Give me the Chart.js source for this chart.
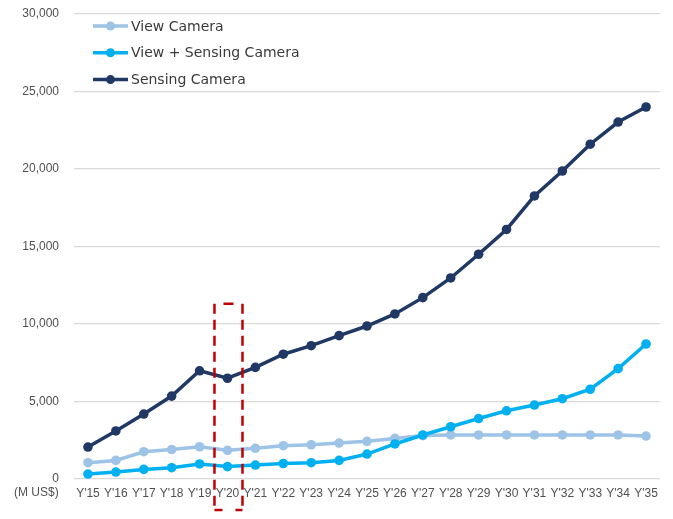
<!DOCTYPE html>
<html>
<head>
<meta charset="utf-8">
<script src="https://cdn.jsdelivr.net/npm/chart.js@4/dist/chart.umd.min.js"></script>
<style>
    html, body { margin: 0; padding: 0; background: #fff; }
    #wrap { width: 673px; height: 519px; }
</style>
</head>
<body>
<div id="wrap"><canvas id="chart"></canvas></div>
<script>
const years = ["Y'15", "Y'16", "Y'17", "Y'18", "Y'19", "Y'20", "Y'21", "Y'22", "Y'23", "Y'24", "Y'25",
    "Y'26", "Y'27", "Y'28", "Y'29", "Y'30", "Y'31", "Y'32", "Y'33", "Y'34", "Y'35"];
const viewCamera = [1050, 1200, 1760, 1900, 2080, 1850, 1980, 2150, 2210, 2320, 2430,
    2620, 2800, 2840, 2840, 2840, 2840, 2840, 2840, 2840, 2770];
const viewSensingCamera = [320, 450, 620, 730, 970, 800, 900, 1000, 1050, 1200, 1610,
    2260, 2840, 3370, 3900, 4400, 4770, 5180, 5790, 7120, 8710];
const sensingCamera = [2060, 3100, 4190, 5350, 6980, 6500, 7200, 8050, 8600, 9250, 9870,
    10650, 11700, 12970, 14500, 16100, 18260, 19870, 21600, 23030, 24000];
const seriesNames = ['View Camera', 'View + Sensing Camera', 'Sensing Camera'];
const highlightYear = "Y'20";
const unitLabel = '(M US$)';

const tickFont = { family: "'Liberation Sans', Arial, sans-serif", size: 12 };
const tickColor = '#505050';

function makeSet(label, data, color, order) {
    return {
        label: label,
        data: data,
        borderColor: color,
        backgroundColor: color,
        borderWidth: 3.5,
        pointRadius: 4.8,
        pointBorderWidth: 0,
        tension: 0,
        order: order
    };
}

// legend drawn inside the plot, stacked vertically
const insideLegend = {
    id: 'insideLegend',
    afterDraw(chart) {
        const ctx = chart.ctx;
        const area = chart.chartArea;
        ctx.save();
        chart.data.datasets.forEach((ds, i) => {
            const y = area.top + 12 + i * 26.8;
            const x0 = area.left + 19;
            ctx.strokeStyle = ds.borderColor;
            ctx.fillStyle = ds.borderColor;
            ctx.lineWidth = 3.5;
            ctx.beginPath();
            ctx.moveTo(x0, y);
            ctx.lineTo(x0 + 35, y);
            ctx.stroke();
            ctx.beginPath();
            ctx.arc(x0 + 17.5, y, 4.5, 0, Math.PI * 2);
            ctx.fill();
            ctx.fillStyle = '#3a3a3a';
            ctx.font = "14px 'DejaVu Sans', sans-serif";
            ctx.textBaseline = 'middle';
            ctx.textAlign = 'left';
            ctx.fillText(ds.label, x0 + 38, y + 1);
        });

        // unit label under the y axis
        ctx.fillStyle = tickColor;
        ctx.font = "12px 'Liberation Sans', Arial, sans-serif";
        ctx.textBaseline = 'middle';
        ctx.fillText(unitLabel, 14, area.bottom + 14);
        ctx.restore();
    }
};

// red dashed box around the highlighted year
const highlightBox = {
    id: 'highlightBox',
    afterDraw(chart) {
        const ctx = chart.ctx;
        const xs = chart.scales.x;
        const ys = chart.scales.y;
        const cx = xs.getPixelForValue(years.indexOf(highlightYear)) + 1;
        const left = cx - 14;
        const right = cx + 14;
        const top = ys.getPixelForValue(11300);
        const bottom = chart.chartArea.bottom + 31;
        ctx.save();
        ctx.strokeStyle = '#c00000';
        ctx.lineWidth = 2.5;
        ctx.setLineDash([10, 6]);
        ctx.beginPath();
        ctx.moveTo(left, top);
        ctx.lineTo(left, bottom);
        ctx.moveTo(right, top);
        ctx.lineTo(right, bottom);
        ctx.stroke();
        ctx.setLineDash([]);
        ctx.beginPath();
        ctx.moveTo(cx - 5, top);
        ctx.lineTo(cx + 5, top);
        ctx.moveTo(left, bottom);
        ctx.lineTo(left + 8, bottom);
        ctx.moveTo(right - 7, bottom);
        ctx.lineTo(right, bottom);
        ctx.stroke();
        ctx.restore();
    }
};

new Chart(document.getElementById('chart'), {
    type: 'line',
    data: {
        labels: years,
        datasets: [
            makeSet(seriesNames[0], viewCamera, '#9dc3e6', 2),
            makeSet(seriesNames[1], viewSensingCamera, '#00b0f0', 1),
            makeSet(seriesNames[2], sensingCamera, '#203864', 0)
        ]
    },
    options: {
        responsive: true,
        maintainAspectRatio: false,
        animation: false,
        layout: { padding: { top: 14, right: 13, left: 0, bottom: 0 } },
        plugins: {
            legend: { display: false },
            tooltip: { enabled: false }
        },
        scales: {
            x: {
                offset: true,
                grid: { display: false, drawTicks: false },
                border: { display: false },
                ticks: {
                    color: tickColor,
                    font: tickFont,
                    padding: 7,
                    maxRotation: 0,
                    autoSkip: false
                },
                afterFit(scale) { scale.height = 40; }
            },
            y: {
                min: 0,
                max: 30000,
                grid: { color: '#d9d9d9', lineWidth: 1.3, drawTicks: false },
                border: { display: false },
                ticks: {
                    stepSize: 5000,
                    color: tickColor,
                    font: tickFont,
                    padding: 15
                },
                afterFit(scale) {
                    scale.width = 74;
                    scale.paddingTop = 0;
                    scale.paddingBottom = 0;
                }
            }
        }
    },
    plugins: [insideLegend, highlightBox]
});
</script>
</body>
</html>
